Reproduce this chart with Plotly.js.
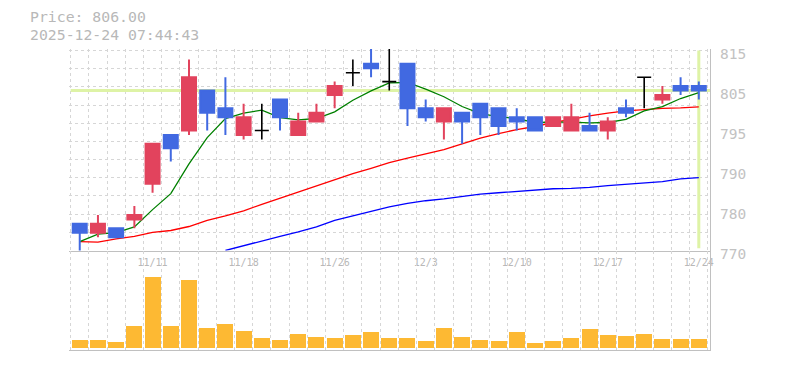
<!DOCTYPE html>
<html>
<head>
<meta charset="utf-8">
<script src="https://cdn.plot.ly/plotly-3.0.1.min.js"></script>
<style>
html,body{margin:0;padding:0;background:#ffffff;}
#chart{width:785px;height:370px;}
</style>
</head>
<body>
<div id="chart"></div>
<script>
// ---- data ----
const dates = ['11/5','11/6','11/7','11/10','11/11','11/12','11/13','11/14','11/17','11/18',
  '11/19','11/20','11/21','11/25','11/26','11/27','11/28','12/1','12/2','12/3',
  '12/4','12/5','12/8','12/9','12/10','12/11','12/12','12/15','12/16','12/17',
  '12/18','12/19','12/22','12/23','12/24'];
const openP  = [776,774,775,777,785,796,797,806,802,796, 797,804,796,799,805,810,812,808,812,802, 799,801,803,802,800,800,798,797,798,797, 802,809,804,807,807];
const highP  = [776,778,775,780,794,796,813,806,809,803, 803,804,801,803,808,813,817,817,812,804, 802,801,803,802,802,800,800,803,801,800, 804,809,807,809,808];
const lowP   = [769,773,773,775,783,790,796,797,796,795, 795,797,796,799,802,807,809,806,798,799, 795,794,796,796,797,797,798,797,797,795, 800,802,803,805,804];
const closeP = [774,776,773,778,794,793,809,801,800,800, 797,800,799,801,807,810,811,808,802,800, 802,799,800,798,799,797,800,800,797,799, 801,809,805,806,806];
const ma5  = [772.0,773.7,774.0,775.3,779.2,782.8,789.5,795.4,799.7,800.9, 801.6,799.9,799.4,799.7,801.2,803.8,805.9,807.7,807.8,806.3, 804.6,802.4,800.8,800.1,799.7,798.8,798.9,798.9,798.7,798.8, 799.5,801.4,802.4,804.2,805.5];
const ma25 = [772.0,771.9,772.6,773.2,774.1,774.5,775.4,776.8,777.8,778.9, 780.4,781.8,783.2,784.6,786.0,787.3,788.5,789.8,790.8,791.8, 792.7,794.0,795.3,796.3,797.2,797.9,798.8,799.5,800.3,800.9, 801.4,801.7,802.0,802.1,802.3];
const ma75 = [null,null,null,null,null,null,null,null,770.0,771.1, 772.1,773.2,774.2,775.3,776.8,777.8,778.8,779.8,780.6,781.2, 781.6,782.1,782.7,783.0,783.3,783.6,783.9,784.0,784.2,784.6, 784.9,785.1,785.5,786.1,786.4];
const volume = [8.3,8.3,6.3,22,71.3,22,68.3,20.3,24.3,17.3, 10.3,8.3,14.3,11.3,10.3,13.3,16.3,10.3,10.3,7.3, 20.3,11.3,8.3,7.3,16.3,5.3,7.3,10.3,19.3,13.3, 12.3,14.3,9.3,9.3,9.3];
const labelDates = ['11/11','11/18','11/26','12/3','12/10','12/17','12/24'];
const priceTickVals = [815,806,797,788,779,770];
const priceTickText = ['815','805','795','790','780','770'];
const currentPrice = 806.00;
const timestamp = '2025-12-24 07:44:43';

// ---- styling ----
const RED = '#e2435d', BLUE = '#4169e1', GRID = '#d6d6d6', AXIS = '#c0c0c0', TXT = '#b8b8b8';
const MONO = 'DejaVu Sans Mono, monospace';
const idx = dates.map((d, i) => i);
const n = dates.length;
const xRange = [-0.59, n - 1 + 0.615];

const normal = idx.filter(i => openP[i] !== closeP[i]);
const doji = idx.filter(i => openP[i] === closeP[i]);
const pick = (arr, list) => list.map(i => arr[i]);

const traces = [
  {type:'scatter', mode:'lines', x: idx, y: ma75, xaxis:'x', yaxis:'y', line:{color:'#0000ff', width:1.3}, hoverinfo:'skip'},
  {type:'scatter', mode:'lines', x: idx, y: ma25, xaxis:'x', yaxis:'y', line:{color:'#ff0000', width:1.3}, hoverinfo:'skip'},
  {type:'scatter', mode:'lines', x: idx, y: ma5,  xaxis:'x', yaxis:'y', line:{color:'#008000', width:1.3}, hoverinfo:'skip'},
  {type:'bar', x: idx, y: volume, xaxis:'x2', yaxis:'y2', width:0.88, marker:{color:'#fdb933', line:{width:0}}},
  {type:'candlestick', x: pick(idx, normal), open: pick(openP, normal), high: pick(highP, normal),
   low: pick(lowP, normal), close: pick(closeP, normal), xaxis:'x', yaxis:'y3',
   increasing:{line:{color:RED, width:2}, fillcolor:RED},
   decreasing:{line:{color:BLUE, width:2}, fillcolor:BLUE}, whiskerwidth:0},
  {type:'candlestick', x: pick(idx, doji), open: pick(openP, doji), high: pick(highP, doji),
   low: pick(lowP, doji), close: pick(closeP, doji), xaxis:'x', yaxis:'y3',
   increasing:{line:{color:'#000000', width:1.6}, fillcolor:'#000000'},
   decreasing:{line:{color:'#000000', width:1.6}, fillcolor:'#000000'}, whiskerwidth:0}
];

const priceDomain = [0.33056, 1];
const layout = {
  width:785, height:370,
  margin:{l:69, r:75, t:49, b:20, pad:0},
  paper_bgcolor:'#ffffff', plot_bgcolor:'#ffffff',
  showlegend:false, hovermode:false,
  boxgap:0.231, boxgroupgap:0, boxmode:'overlay',
  bargap:0,
  xaxis:{
    domain:[0,1], anchor:'y', range:xRange, fixedrange:true,
    tickmode:'array', tickvals: labelDates.map(d => dates.indexOf(d)), ticktext: labelDates,
    ticks:'', showgrid:false, zeroline:false,
    showline:true, linecolor:AXIS, linewidth:1.3,
    tickfont:{family:MONO, size:10, color:TXT},
    ticklabelshift:4.5, ticklabelstandoff:2,
    minor:{tickmode:'linear', tick0:-0.5, dtick:1, showgrid:true, gridcolor:GRID, gridwidth:1, griddash:'3px,3px', ticks:''},
    rangeslider:{visible:false}
  },
  xaxis2:{
    domain:[0,1], anchor:'y2', matches:'x', range:xRange, fixedrange:true,
    tickmode:'linear', tick0:-0.5, dtick:1, showticklabels:false, ticks:'',
    showgrid:true, gridcolor:GRID, gridwidth:1, griddash:'3px,3px', zeroline:false,
    showline:true, linecolor:AXIS, linewidth:1.3
  },
  yaxis:{
    domain:priceDomain, anchor:'x', side:'right', range:[770, 815.34], fixedrange:true,
    tickmode:'linear', tick0:770, dtick:45/11, showticklabels:false, ticks:'',
    showgrid:true, gridcolor:GRID, gridwidth:1, griddash:'3px,3px', zeroline:false,
    showline:true, linecolor:AXIS, linewidth:1.3
  },
  yaxis3:{
    overlaying:'y', anchor:'x', side:'right', range:[770, 815.34], fixedrange:true,
    tickmode:'array', tickvals:priceTickVals, ticktext:priceTickText,
    ticks:'', showgrid:false, zeroline:false, showline:false,
    tickfont:{family:MONO, size:14.5, color:'#c2c2c2'},
    ticklabelshift:3, ticklabelstandoff:9
  },
  yaxis2:{
    domain:[0, priceDomain[0]], anchor:'x2', side:'right', range:[-2, 97.5], fixedrange:true,
    showticklabels:false, ticks:'', showgrid:false, zeroline:false,
    showline:true, linecolor:AXIS, linewidth:1.3
  },
  shapes:[
    {type:'line', xref:'x', yref:'y', x0:-0.5, x1:xRange[1], y0:currentPrice, y1:currentPrice,
     line:{color:'#def3a6', width:3.2}, layer:'between'},
    {type:'line', xref:'x', yref:'y', x0:n-1, x1:n-1, y0:770.5, y1:815,
     line:{color:'#def3a6', width:3}, layer:'between'}
  ],
  annotations:[
    {xref:'paper', yref:'paper', x:(29-69)/641, y:1 + (49-16.5)/301, xanchor:'left', yanchor:'middle',
     text:'Price: ' + currentPrice.toFixed(2), showarrow:false, borderpad:0,
     font:{family:MONO, size:14.8, color:TXT}},
    {xref:'paper', yref:'paper', x:(29-69)/641, y:1 + (49-34.5)/301, xanchor:'left', yanchor:'middle',
     text:timestamp, showarrow:false, borderpad:0,
     font:{family:MONO, size:14.8, color:TXT}}
  ]
};

Plotly.newPlot('chart', traces, layout, {staticPlot:true, displayModeBar:false});
</script>
</body>
</html>
